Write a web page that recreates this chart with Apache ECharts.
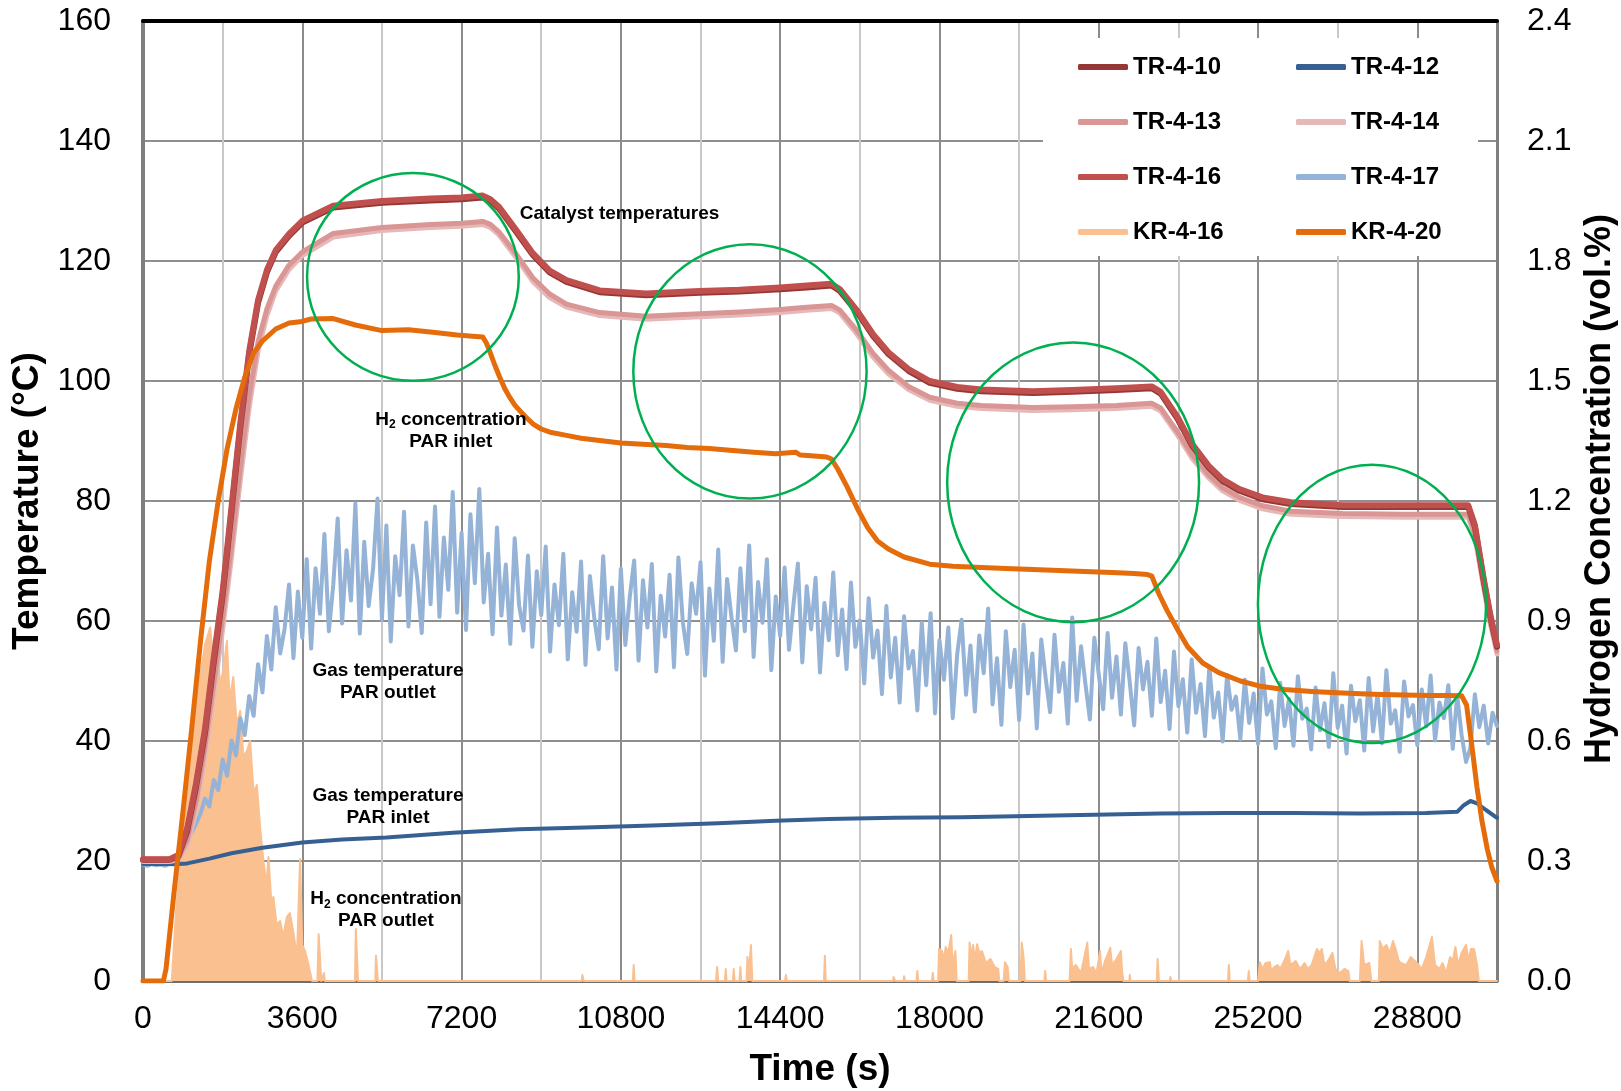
<!DOCTYPE html>
<html>
<head>
<meta charset="utf-8">
<title>PAR test temperatures and H2 concentration</title>
<script src="https://cdn.jsdelivr.net/npm/echarts/dist/echarts.min.js"></script>
<style>
  html, body { margin: 0; padding: 0; background: #fff; }
  #chart { width: 1621px; height: 1091px; }
</style>
</head>
<body>
<div id="chart"></div>
<script>
// time grid for the catalyst thermocouples (s)
const catTime = [
  0, 600, 800, 1000, 1200, 1400, 1600, 1800, 2000, 2200,
  2400, 2600, 2800, 3000, 3300, 3600, 4300, 5400, 6500, 7200,
  7680, 7850, 8050, 8440, 8810, 9190, 9570, 10320, 11370, 12580,
  13480, 14400, 15000, 15560, 15750, 16145, 16500, 16845, 17300, 17780,
  18400, 18945, 20112, 21000, 22000, 22795, 23000, 23380, 23700, 24080,
  24400, 24780, 25300, 25945, 27110, 28500, 29950, 30100, 30300, 30450,
  30600
];
const tr410 = [
  20.2, 20.2, 20.8, 25, 32.4, 41.3, 53.2, 64.3, 78.2, 92.3,
  104.4, 113, 118.1, 121.5, 124.2, 126.4, 128.9, 129.7, 130.1, 130.3,
  130.6, 130, 128.7, 124.8, 121, 118.1, 116.5, 114.8, 114.3, 114.7,
  114.9, 115.3, 115.6, 115.9, 115, 111.4, 107.5, 104.5, 101.7, 99.7,
  98.7, 98.3, 98, 98.2, 98.5, 98.8, 97.9, 93.7, 89.3, 85.6,
  83.3, 81.7, 80.3, 79.5, 79, 79, 79, 75.7, 66.7, 60.7,
  55.7
];
const tr416 = [
  20.3, 20.3, 21.0, 25.5, 33, 42, 54, 65, 79, 93,
  105, 113.5, 118.5, 121.8, 124.5, 126.7, 129.2, 130, 130.4, 130.6,
  130.9, 130.3, 129, 125.1, 121.3, 118.4, 116.8, 115.1, 114.6, 115,
  115.2, 115.6, 115.9, 116.2, 115.3, 111.7, 107.8, 104.8, 102, 100,
  99, 98.6, 98.3, 98.5, 98.8, 99.1, 98.2, 94, 89.6, 85.9,
  83.6, 82, 80.6, 79.8, 79.3, 79.3, 79.3, 76, 67, 61,
  56
];
const tr413 = [
  20.1, 20.1, 20.5, 23.5, 30, 39, 49.5, 60.5, 72.5, 85.5,
  97.5, 106.5, 112, 115.8, 119.3, 121.5, 124.6, 125.6, 126.1, 126.3,
  126.6, 126.1, 124.8, 121.1, 117.2, 114.5, 112.8, 111.4, 110.8, 111.2,
  111.5, 111.9, 112.3, 112.6, 111.8, 108.3, 104.6, 101.8, 99.1, 97.3,
  96.3, 95.9, 95.6, 95.7, 95.9, 96.3, 95.5, 91.5, 87.8, 84.4,
  82.2, 80.6, 79.2, 78.3, 77.9, 77.8, 77.8, 74.5, 66, 60,
  55
];
const tr414 = [
  19.9, 19.9, 20.2, 22.6, 28.6, 37.4, 47.8, 58.7, 70.6, 83.5,
  95.6, 105, 110.9, 115, 118.6, 120.9, 124, 125.1, 125.6, 125.8,
  126.1, 125.6, 124.3, 120.5, 116.6, 113.9, 112.3, 110.9, 110.3, 110.7,
  111, 111.4, 111.8, 112.1, 111.3, 107.7, 104, 101.2, 98.6, 96.8,
  95.8, 95.4, 95.1, 95.2, 95.4, 95.8, 95, 91, 87.2, 83.9,
  81.7, 80.1, 78.7, 77.8, 77.4, 77.3, 77.3, 74, 65.5, 59.5,
  54.5
];

// gas temperature PAR inlet
const tr412Time = [
  0, 800, 1000, 1500, 2000, 2700, 3600, 4500, 5500, 7000,
  8500, 10000, 11500, 13000, 14300, 15500, 17000, 18500, 20000, 21500,
  23000, 24500, 26000, 27500, 29000, 29700, 29850, 30000, 30150, 30350,
  30600
];
const tr412 = [
  19.5, 19.5, 19.6, 20.4, 21.3, 22.2, 23.1, 23.6, 23.9, 24.7,
  25.3, 25.6, 25.9, 26.3, 26.7, 27, 27.2, 27.3, 27.5, 27.7,
  27.9, 28, 28, 27.9, 28, 28.2, 29.3, 30, 29.6, 28.5,
  27.2
];

// gas temperature PAR outlet, read every 100 s (0 .. 30600)
const tr417Step = 100;
const tr417 = [
  19.4, 19.2, 19.5, 19.3, 19.4, 19.2, 19.5, 19.4,
  20.1, 21.5, 23.6, 24.8, 26.2, 27.9, 30.4, 29.1, 33.5, 31.8,
  36.9, 34.2, 40.1, 37.6, 43.8, 41.0, 47.5, 44.2, 52.8, 48.1,
  57.5, 51.9, 62.3, 54.6, 58.7, 66.1, 53.8, 64.9, 57.2, 70.3,
  55.4, 68.8, 61.2, 74.5, 58.3, 66.0, 77.1, 59.6, 71.8, 63.4,
  79.6, 57.9, 73.2, 62.5, 68.7, 80.4, 60.2, 75.9, 56.6, 70.8,
  64.3, 78.2, 59.1, 72.6, 66.9, 58.0, 76.4, 62.8, 79.1, 60.7,
  73.9, 65.2, 81.5, 61.4, 74.7, 58.5, 77.8, 66.3, 82.0, 63.1,
  71.2, 57.8, 75.6, 60.9, 69.4, 56.2, 73.8, 62.6, 58.4, 70.9,
  55.7, 68.3, 61.0, 72.4, 54.9, 66.1, 59.3, 71.2, 53.6, 64.8,
  58.2, 69.9, 52.7, 67.5, 60.4, 55.3, 70.8, 57.1, 65.6, 51.9,
  68.7, 56.0, 63.9, 70.1, 53.4, 66.8, 58.9, 69.5, 51.6, 64.2,
  57.4, 67.7, 52.3, 70.6, 59.8, 54.5, 66.3, 61.2, 69.8, 50.9,
  65.4, 56.7, 71.9, 53.2, 67.0, 60.6, 55.1, 68.8, 58.3, 72.6,
  54.0, 66.5, 59.7, 70.3, 51.8, 64.1, 57.5, 68.9, 55.2, 62.7,
  69.6, 53.1, 65.8, 58.6, 67.2, 51.4, 63.0, 56.8, 68.1, 54.3,
  61.9, 52.0, 66.4, 55.7, 60.1, 49.6, 63.8, 53.9, 58.4, 47.8,
  62.5, 50.6, 57.2, 46.4, 60.8, 52.1, 55.0, 45.1, 59.7, 49.3,
  61.3, 44.6, 56.8, 50.2, 58.9, 43.8, 54.4, 60.2, 47.7, 55.9,
  44.9, 57.6, 51.3, 62.1, 46.1, 53.8, 42.7, 58.3, 49.0, 55.2,
  43.5, 59.4, 47.9, 54.6, 42.1, 56.9, 50.5, 44.8, 57.7, 48.2,
  53.0, 42.9, 60.6, 46.7, 55.8, 49.4, 43.6, 57.2, 51.1, 45.3,
  58.0, 47.2, 54.1, 44.4, 56.3, 49.8, 42.6, 55.5, 48.6, 53.2,
  44.2, 57.1, 46.5, 51.7, 42.0, 54.9, 45.8, 50.3, 41.4, 53.6,
  44.7, 49.5, 40.8, 52.4, 43.9, 48.1, 39.9, 51.0, 45.2, 47.4,
  40.3, 50.2, 43.0, 47.9, 39.5, 52.1, 44.4, 46.6, 38.8, 49.7,
  42.5, 47.0, 39.2, 50.8, 43.7, 45.4, 38.6, 48.9, 41.8, 46.3,
  39.0, 51.3, 42.2, 45.9, 37.9, 49.2, 43.3, 46.8, 38.4, 50.5,
  41.6, 47.7, 39.6, 51.8, 42.9, 45.1, 38.2, 49.9, 44.1, 46.0,
  39.3, 48.6, 42.4, 50.9, 40.1, 46.4, 43.8, 49.3, 38.7, 47.6,
  41.0, 36.5, 38.9, 47.8, 42.3, 45.9, 39.6, 44.7, 42.5
];

// H2 concentration PAR inlet (vol.%)
const kr420Time = [
  0, 460, 520, 700, 900, 1100, 1300, 1500, 1700, 1900,
  2100, 2300, 2500, 2700, 3000, 3300, 3550, 3800, 4300, 4800,
  5400, 6000, 6550, 7100, 7450, 7680, 7760, 7830, 7950, 8060,
  8180, 8290, 8400, 8515, 8650, 8810, 9000, 9200, 9570, 9900,
  10320, 10800, 11300, 11825, 12300, 12800, 13330, 13800, 14300, 14750,
  14850, 15100, 15450, 15560, 15700, 15910, 16150, 16380, 16600, 16845,
  17200, 17780, 18300, 18945, 19500, 20112, 20700, 21280, 21900, 22400,
  22700, 22800, 22950, 23145, 23400, 23612, 23950, 24312, 24800, 25245,
  25800, 26412, 27110, 27800, 28500, 29100, 29445, 29800, 29912, 30030,
  30146, 30260, 30380, 30480, 30600
];
const kr420 = [
  0, 0, 0.03, 0.22, 0.42, 0.63, 0.85, 1.05, 1.2, 1.33,
  1.43, 1.51, 1.57, 1.6, 1.63, 1.645, 1.648, 1.655, 1.656, 1.64,
  1.626, 1.628, 1.622, 1.615, 1.612, 1.61, 1.595, 1.576, 1.54, 1.51,
  1.48, 1.459, 1.44, 1.426, 1.41, 1.393, 1.38, 1.372, 1.364, 1.357,
  1.351, 1.345, 1.342, 1.339, 1.334, 1.331, 1.326, 1.322, 1.318, 1.322,
  1.315, 1.313, 1.31, 1.305, 1.28, 1.236, 1.18, 1.133, 1.1, 1.08,
  1.06, 1.042, 1.037, 1.034, 1.031, 1.029, 1.026, 1.024, 1.021, 1.019,
  1.016, 1.012, 0.97, 0.926, 0.875, 0.835, 0.795, 0.771, 0.75, 0.737,
  0.729, 0.724, 0.72, 0.717, 0.715, 0.714, 0.714, 0.713, 0.69, 0.59,
  0.486, 0.4, 0.33, 0.285, 0.25
];

// H2 concentration PAR outlet (vol.%), [time, value]
const kr416Points = [
  [0, 0], [650, 0], [750, 0.18], [900, 0.37], [1050, 0.52], [1200, 0.68], [1300, 0.77], [1400, 0.84],
  [1519, 0.884], [1590, 0.8], [1670, 0.84], [1745, 0.74], [1820, 0.78], [1896, 0.85], [1960, 0.7],
  [2040, 0.76], [2120, 0.64], [2196, 0.675], [2270, 0.56], [2347, 0.575], [2422, 0.6], [2500, 0.47],
  [2573, 0.49], [2650, 0.38], [2722, 0.3], [2790, 0.24], [2835, 0.31], [2900, 0.2], [2948, 0.21],
  [3020, 0.14], [3099, 0.15], [3170, 0.11], [3250, 0.16], [3320, 0.17], [3400, 0.12], [3480, 0.06],
  [3550, 0.305], [3600, 0.09], [3660, 0.075], [3720, 0.05], [3780, 0.02], [3820, 0],
  [3940, 0], [3970, 0.117], [4000, 0.12], [4030, 0], [4070, 0], [4090, 0.02], [4110, 0],
  [4790, 0], [4810, 0.13], [4840, 0.133], [4860, 0], [5250, 0], [5265, 0.063], [5290, 0.066], [5310, 0],
  [7260, 0], [7275, 0.005], [7290, 0], [9910, 0], [9930, 0.015], [9960, 0], [11070, 0], [11090, 0.04], [11110, 0],
  [12950, 0], [12975, 0.035], [13000, 0], [13150, 0], [13170, 0.03], [13190, 0], [13330, 0], [13350, 0.03],
  [13370, 0], [13480, 0], [13500, 0.035], [13520, 0], [13640, 0], [13660, 0.06], [13690, 0.02], [13740, 0.09],
  [13770, 0],
  [14510, 0], [14530, 0.015], [14550, 0], [15390, 0], [15410, 0.063], [15430, 0],
  [16950, 0], [16960, 0.01], [17000, 0], [17190, 0], [17200, 0.012], [17220, 0], [17480, 0], [17500, 0.025],
  [17520, 0], [17830, 0], [17850, 0.02], [17870, 0], [17970, 0], [17990, 0.08], [18060, 0.075], [18100, 0.05],
  [18140, 0.085], [18200, 0.07], [18265, 0.115], [18300, 0.04], [18360, 0.075], [18390, 0],
  [18660, 0], [18680, 0.096], [18720, 0.06], [18760, 0.09], [18800, 0.05], [18850, 0.092], [18900, 0.07],
  [18960, 0.075], [19050, 0.045], [19150, 0.055], [19250, 0.035], [19330, 0.03], [19350, 0],
  [19450, 0], [19480, 0.047], [19540, 0.035], [19570, 0], [19830, 0], [19860, 0.096], [19900, 0.06], [19930, 0],
  [20370, 0], [20390, 0.025], [20410, 0], [20940, 0], [20970, 0.08], [21000, 0.03], [21080, 0.04], [21200, 0.02],
  [21340, 0.096], [21380, 0.03], [21470, 0.035], [21550, 0.02], [21630, 0.075], [21660, 0.02], [21740, 0.05],
  [21860, 0.083], [21900, 0.04], [22000, 0.055], [22100, 0.075], [22130, 0.02], [22160, 0],
  [22290, 0], [22300, 0.015], [22320, 0], [22910, 0], [22930, 0.055], [22960, 0], [23200, 0], [23220, 0.01], [23240, 0],
  [24520, 0], [24540, 0.04], [24560, 0], [24970, 0], [24990, 0.025], [25010, 0],
  [25200, 0], [25240, 0.047], [25300, 0.03], [25370, 0.045], [25470, 0.047], [25500, 0.02], [25560, 0.035],
  [25640, 0.04], [25700, 0.03], [25790, 0.05], [25880, 0.075], [25930, 0.04], [26050, 0.05], [26150, 0.03],
  [26250, 0.045], [26330, 0.03], [26410, 0.04], [26530, 0.08], [26600, 0.07], [26640, 0.08], [26700, 0.04],
  [26780, 0.05], [26880, 0.07], [26950, 0.03], [27050, 0.02], [27150, 0.03], [27240, 0.025], [27270, 0],
  [27500, 0], [27540, 0.1], [27600, 0.04], [27715, 0.045], [27760, 0], [27930, 0], [27950, 0.1], [28020, 0.08],
  [28100, 0.09], [28180, 0.07], [28250, 0.1], [28310, 0.08], [28380, 0.05], [28430, 0.045], [28550, 0.04],
  [28650, 0.06], [28790, 0.045], [28900, 0.03], [29000, 0.06], [29130, 0.11], [29200, 0.04], [29300, 0.03],
  [29370, 0.045], [29450, 0.02], [29540, 0.06], [29600, 0.05], [29660, 0.085], [29720, 0.04], [29800, 0.07],
  [29900, 0.09], [29960, 0.05], [30010, 0.08], [30080, 0.08], [30150, 0.04], [30190, 0], [30600, 0]
];

// green ellipses: centre (time, temperature) and half-axes
const ringTime = [6100, 13717, 21020, 27775];
const ringTemp = [117.35, 101.6, 83.1, 62.85];
const ringHalfTime = [2392, 2636, 2846, 2578];
const ringHalfTemp = [17.3, 21.2, 23.3, 23.2];

const FONT = '"Liberation Sans", Arial, sans-serif';

function zip(ts, vs) {
  return ts.map((t, i) => [t, vs[i]]);
}

function lineSeries(name, data, color, width, yIdx) {
  return {
    name: name,
    type: 'line',
    data: data,
    yAxisIndex: yIdx || 0,
    showSymbol: false,
    symbol: 'none',
    silent: true,
    lineStyle: { color: color, width: width, cap: 'round', join: 'round' },
    itemStyle: { color: color }
  };
}

const chart = echarts.init(document.getElementById('chart'));

const kr416Series = lineSeries('KR-4-16', kr416Points, '#FAC090', 2, 1);
kr416Series.areaStyle = { color: '#FAC090', opacity: 1 };

const legendText = { fontSize: 24, fontWeight: 'bold', color: '#000', fontFamily: FONT, lineHeight: 24 };
const nameText = { fontSize: 37, fontWeight: 'bold', color: '#000', fontFamily: FONT };

const option = {
  animation: false,
  backgroundColor: '#fff',
  grid: { left: 143, right: 124, top: 21, bottom: 110, containLabel: false, outerBoundsMode: 'none' },
  legend: [
    {
      data: ['TR-4-10', 'TR-4-13', 'TR-4-16', 'KR-4-16'],
      orient: 'vertical', left: 1078, top: 55, padding: 0,
      itemWidth: 50, itemHeight: 6, itemGap: 31, icon: 'roundRect',
      selectedMode: false, textStyle: legendText
    },
    {
      data: ['TR-4-12', 'TR-4-14', 'TR-4-17', 'KR-4-20'],
      orient: 'vertical', left: 1296, top: 55, padding: 0,
      itemWidth: 50, itemHeight: 6, itemGap: 31, icon: 'roundRect',
      selectedMode: false, textStyle: legendText
    }
  ],
  xAxis: [
    {
      type: 'value', min: 0, max: 30600, interval: 3600,
      name: 'Time (s)', nameLocation: 'middle', nameGap: 70,
      nameTextStyle: nameText,
      axisLine: { show: true, onZero: false, lineStyle: { color: '#6e6e6e', width: 3 } },
      axisTick: { show: false },
      axisLabel: { fontSize: 32, color: '#000', fontFamily: FONT, margin: 22, lineHeight: 32, showMaxLabel: false,
        formatter: function (v) { return String(v); } },
      splitLine: { show: true, lineStyle: { color: '#8c8c8c', width: 2 } },
      minorTick: { show: false, splitNumber: 2 },
      minorSplitLine: { show: true, lineStyle: { color: '#c8c8c8', width: 2 } }
    },
    {
      type: 'value', min: 0, max: 30600, position: 'top',
      axisLine: { show: true, onZero: false, lineStyle: { color: '#000', width: 4 } },
      axisTick: { show: false }, axisLabel: { show: false }, splitLine: { show: false }
    }
  ],
  yAxis: [
    {
      type: 'value', min: 0, max: 160, interval: 20, position: 'left',
      name: 'Temperature (°C)', nameLocation: 'middle', nameGap: 94, nameRotate: 90,
      nameTextStyle: nameText,
      axisLine: { show: true, onZero: false, lineStyle: { color: '#7f7f7f', width: 4 } },
      axisTick: { show: false },
      axisLabel: { fontSize: 32, color: '#000', fontFamily: FONT, margin: 32 },
      splitLine: { show: true, lineStyle: { color: '#8f8f8f', width: 2 } }
    },
    {
      type: 'value', min: 0, max: 2.4, interval: 0.3, position: 'right',
      name: 'Hydrogen Concentration (vol.%)', nameLocation: 'middle', nameGap: 80, nameRotate: 90,
      nameTextStyle: { fontSize: 36, fontWeight: 'bold', color: '#000', fontFamily: FONT, padding: [0, 0, 0, 24] },
      axisLine: { show: true, onZero: false, lineStyle: { color: '#7f7f7f', width: 3 } },
      axisTick: { show: false },
      axisLabel: { fontSize: 32, color: '#000', fontFamily: FONT, margin: 30,
        formatter: function (v) { return v.toFixed(1); } },
      splitLine: { show: false }
    }
  ],
  series: [
    kr416Series,
    lineSeries('TR-4-17', tr417.map((v, i) => [i * tr417Step, v]), '#95B3D7', 4),
    lineSeries('TR-4-12', zip(tr412Time, tr412), '#376092', 4),
    lineSeries('TR-4-14', zip(catTime, tr414), '#E6B9B8', 5),
    lineSeries('TR-4-13', zip(catTime, tr413), '#D99694', 5),
    lineSeries('TR-4-10', zip(catTime, tr410), '#953735', 6),
    lineSeries('TR-4-16', zip(catTime, tr416), '#C0504D', 6),
    lineSeries('KR-4-20', zip(kr420Time, kr420), '#E46C0A', 5, 1)
  ]
};

chart.setOption(option);

// annotations placed in data coordinates (time, temperature)
const notes = [
  { at: [8515, 127.8], align: 'left', text: '{b|Catalyst temperatures}' },
  { at: [6958, 91.7], align: 'center', text: '{b|H}{s|2}{b| concentration}\n{b|PAR inlet}' },
  { at: [5536, 49.9], align: 'center', text: '{b|Gas temperature}\n{b|PAR outlet}' },
  { at: [5536, 29.0], align: 'center', text: '{b|Gas temperature}\n{b|PAR inlet}' },
  { at: [5490, 11.8], align: 'center', text: '{b|H}{s|2}{b| concentration}\n{b|PAR outlet}' }
];

const toPx = p => chart.convertToPixel({ xAxisIndex: 0, yAxisIndex: 0 }, p);
const graphics = [
  // white box behind the legend, hiding the grid lines
  { type: 'rect', z: 1, silent: true, shape: { x: 1043, y: 38, width: 435, height: 218 }, style: { fill: '#fff' } }
];

ringTime.forEach((t, i) => {
  const c = toPx([t, ringTemp[i]]);
  const e = toPx([t + ringHalfTime[i], ringTemp[i] + ringHalfTemp[i]]);
  graphics.push({
    type: 'ellipse', z: 100, silent: true,
    shape: { cx: c[0], cy: c[1], rx: Math.abs(e[0] - c[0]), ry: Math.abs(c[1] - e[1]) },
    style: { fill: 'none', stroke: '#00B050', lineWidth: 2.5 }
  });
});

notes.forEach(n => {
  const p = toPx(n.at);
  graphics.push({
    type: 'text', z: 100, silent: true, x: p[0], y: p[1],
    style: {
      text: n.text, align: n.align, verticalAlign: 'middle',
      rich: {
        b: { fontSize: 19, fontWeight: 'bold', fontFamily: FONT, fill: '#000', color: '#000', lineHeight: 22 },
        s: { fontSize: 12, fontWeight: 'bold', fontFamily: FONT, fill: '#000', color: '#000', lineHeight: 12, verticalAlign: 'bottom' }
      }
    }
  });
});

chart.setOption({ graphic: { elements: graphics } });
</script>
</body>
</html>
